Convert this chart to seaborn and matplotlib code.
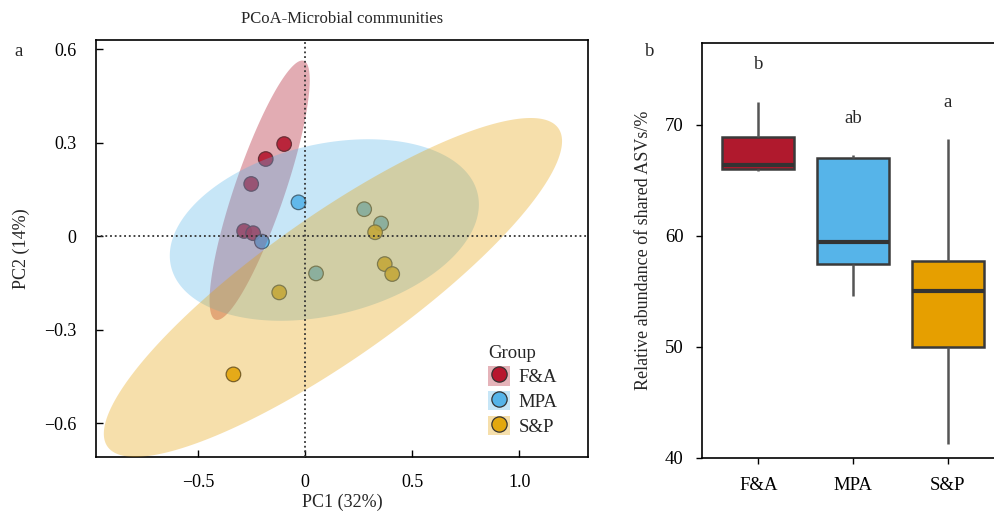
import numpy as np
import pandas as pd
import matplotlib
matplotlib.use("Agg")
import matplotlib.pyplot as plt
from matplotlib.lines import Line2D
from matplotlib.patches import Patch
from matplotlib.legend_handler import HandlerTuple
import seaborn as sns

# ---- PCoA sample scores ----
groups = ["F&A", "MPA", "S&P"]
fa_pc1 = [-0.098, -0.184, -0.252, -0.285, -0.243]
fa_pc2 = [0.295, 0.247, 0.167, 0.016, 0.009]
mpa_pc1 = [-0.031, -0.202, 0.276, 0.355, 0.051]
mpa_pc2 = [0.108, -0.018, 0.086, 0.040, -0.120]
sp_pc1 = [0.327, 0.372, 0.407, -0.121, -0.335]
sp_pc2 = [0.012, -0.090, -0.122, -0.181, -0.444]

# ---- Relative abundance of shared ASVs (%) ----
fa_shared = [65.8, 66.0, 66.4, 68.9, 72.1]
mpa_shared = [54.6, 57.5, 59.4, 67.0, 67.3]
sp_shared = [41.2, 50.0, 55.0, 57.7, 68.7]
sig_letters = ["b", "ab", "a"]

pc1_label = "PC1 (32%)"
pc2_label = "PC2 (14%)"

point_colors = {"F&A": "#B8162E", "MPA": "#56B4E9", "S&P": "#E3A80E"}
box_colors = {"F&A": "#B0192D", "MPA": "#56B4E9", "S&P": "#E69F00"}

pcoa = pd.DataFrame({
    "PC1": fa_pc1 + mpa_pc1 + sp_pc1,
    "PC2": fa_pc2 + mpa_pc2 + sp_pc2,
    "Group": ["F&A"] * len(fa_pc1) + ["MPA"] * len(mpa_pc1) + ["S&P"] * len(sp_pc1),
})
shared = pd.DataFrame({
    "Group": ["F&A"] * len(fa_shared) + ["MPA"] * len(mpa_shared) + ["S&P"] * len(sp_shared),
    "Value": fa_shared + mpa_shared + sp_shared,
})

sns.set_theme(style="white")
plt.rcParams["font.family"] = ["Liberation Serif", "DejaVu Serif"]
plt.rcParams["axes.unicode_minus"] = True

fig = plt.figure(figsize=(9.95, 5.19), dpi=100)
ax1 = fig.add_axes([0.0965, 0.1195, 0.4945, 0.8035])
ax2 = fig.add_axes([0.7052, 0.1181, 0.2948, 0.7996])

# ---- Panel a: PCoA ----
sns.scatterplot(data=pcoa, x="PC1", y="PC2", hue="Group", hue_order=groups,
                palette=point_colors, s=110, edgecolor="#333333", linewidth=0.9,
                alpha=0.9, legend=False, ax=ax1, zorder=2)

# confidence-style ellipses from each group's covariance
ELLIPSE_SCALE = 3.18
t = np.linspace(0, 2 * np.pi, 300)
for g in groups:
    sub = pcoa[pcoa["Group"] == g]
    xy = sub[["PC1", "PC2"]].to_numpy()
    center = xy.mean(axis=0)
    cov = np.cov(xy, rowvar=False)
    vals, vecs = np.linalg.eigh(cov)
    circle = np.vstack([np.cos(t), np.sin(t)])
    pts = vecs @ (np.sqrt(vals)[:, None] * circle) * ELLIPSE_SCALE
    ax1.fill(pts[0] + center[0], pts[1] + center[1], color=box_colors[g],
             alpha=0.33 if g != "F&A" else 0.36, linewidth=0, zorder=3)

ax1.axhline(0, color="#333333", linestyle=(0, (1, 1.6)), linewidth=1.3, zorder=4)
ax1.axvline(0, color="#333333", linestyle=(0, (1, 1.6)), linewidth=1.3, zorder=4)

ax1.set_xlim(-0.977, 1.322)
ax1.set_ylim(-0.709, 0.629)
ax1.set_xticks([-0.5, 0, 0.5, 1.0])
ax1.set_xticklabels(["\u22120.5", "0", "0.5", "1.0"])
ax1.set_yticks([0.6, 0.3, 0, -0.3, -0.6])
ax1.set_yticklabels(["0.6", "0.3", "0", "\u22120.3", "\u22120.6"])
ax1.tick_params(direction="in", length=5, width=1, labelsize=13, colors="black",
                bottom=True, left=True, top=False, right=False)
ax1.tick_params(axis="x", pad=12)
ax1.tick_params(axis="y", pad=14)
for sp in ax1.spines.values():
    sp.set_color("black")
    sp.set_linewidth(1.2)
ax1.set_xlabel(pc1_label, fontsize=13, labelpad=2)
ax1.set_ylabel(pc2_label, fontsize=13, labelpad=10)
ax1.set_title("PCoA-Microbial communities", fontsize=12, pad=12)

handles = [
    (Patch(facecolor=box_colors[g], alpha=0.33, edgecolor="none"),
     Line2D([], [], marker="o", linestyle="none", markersize=11,
            markerfacecolor=point_colors[g], markeredgecolor="#333333",
            markeredgewidth=0.9))
    for g in groups
]
leg = ax1.legend(handles, groups, title="Group", loc="lower right",
                 bbox_to_anchor=(0.965, 0.02), frameon=False, fontsize=13.5,
                 title_fontsize=13.5, handlelength=1.2, handleheight=1.2,
                 handletextpad=0.45, labelspacing=0.25, borderaxespad=0.3,
                 handler_map={tuple: HandlerTuple(ndivide=1, pad=0)})
leg._legend_box.align = "left"

# ---- Panel b: shared ASVs ----
sns.boxplot(data=shared, x="Group", y="Value", order=groups, hue="Group",
            hue_order=groups, palette=box_colors, saturation=1, width=0.76,
            whis=1.5, linewidth=1.8, linecolor="#3a3a3a", legend=False, ax=ax2,
            medianprops={"color": "#333333", "linewidth": 3},
            whiskerprops={"color": "#555555", "linewidth": 1.8},
            capprops={"linewidth": 0})
for i, g in enumerate(groups):
    top = shared.loc[shared["Group"] == g, "Value"].max()
    ax2.text(i, top + 3.3, sig_letters[i], ha="center", va="center", fontsize=13.5)

ax2.set_xlim(-0.6, 2.5)
ax2.set_ylim(40, 77.4)
ax2.set_yticks([40, 50, 60, 70])
ax2.tick_params(direction="out", length=4, width=1, labelsize=13.5, colors="black",
                bottom=True, left=True, top=False, right=False)
ax2.tick_params(axis="x", pad=10)
ax2.tick_params(axis="y", pad=9)
ax2.spines["right"].set_visible(False)
for sp in ["left", "top", "bottom"]:
    ax2.spines[sp].set_color("black")
    ax2.spines[sp].set_linewidth(1.2)
ax2.set_xlabel("")
ax2.set_ylabel("Relative abundance of shared ASVs/%", fontsize=13, labelpad=9)

fig.text(0.014, 0.900, "a", fontsize=13.5, va="center")
fig.text(0.648, 0.900, "b", fontsize=13.5, va="center")

fig.savefig("out.png", dpi=100)
